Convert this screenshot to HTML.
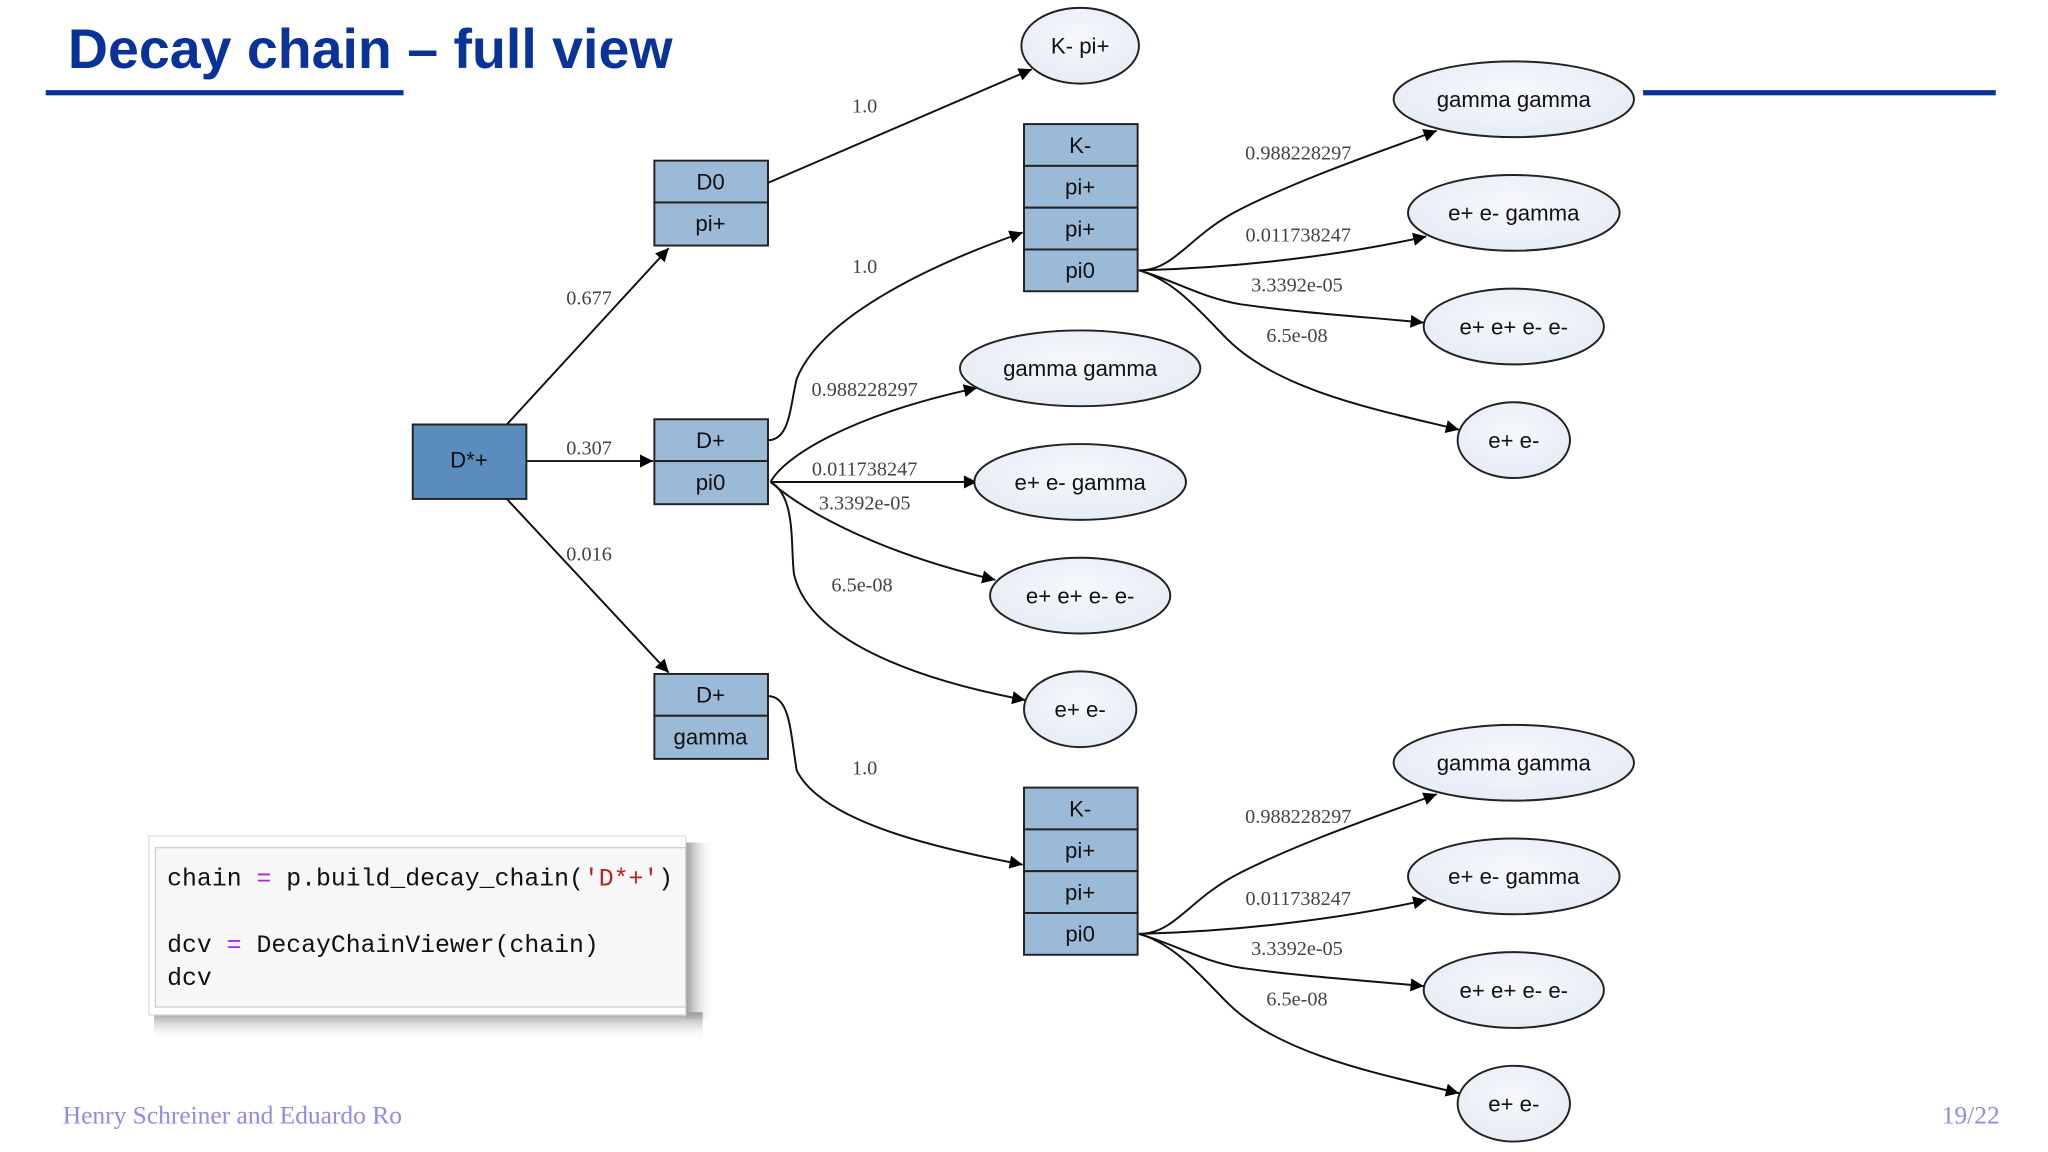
<!DOCTYPE html>
<html><head><meta charset="utf-8"><style>
html,body{margin:0;padding:0;background:#fff;}
svg{display:block;}
.n{font-family:"Liberation Sans",sans-serif;font-size:17px;fill:#111;text-anchor:middle;}
.e{font-family:"Liberation Serif",serif;font-size:15.5px;fill:#444;text-anchor:middle;}
.c{font-family:"Liberation Mono",monospace;font-size:19px;fill:#111;}
path.ed{fill:none;stroke:#111;stroke-width:1.5;marker-end:url(#ar);}
</style></head><body>
<svg width="2048" height="1152" viewBox="0 0 1568 882" xmlns="http://www.w3.org/2000/svg">
<defs>
<marker id="ar" viewBox="0 0 10 10" refX="10" refY="5" markerWidth="13" markerHeight="10" markerUnits="userSpaceOnUse" orient="auto"><path d="M0,0 L10,5 L0,10 z" fill="#000"/></marker>
<radialGradient id="eg" cx="50%" cy="40%" r="60%"><stop offset="0" stop-color="#f6f8fc"/><stop offset="1" stop-color="#e6ecf5"/></radialGradient>
<linearGradient id="sh" x1="0" y1="0" x2="1" y2="0"><stop offset="0" stop-color="#999"/><stop offset="1" stop-color="#fff" stop-opacity="0"/></linearGradient>
<linearGradient id="shb" x1="0" y1="0" x2="0" y2="1"><stop offset="0" stop-color="#999"/><stop offset="1" stop-color="#fff" stop-opacity="0"/></linearGradient>
</defs>
<rect width="1568" height="882" fill="#fff"/>
<text x="52" y="52" font-family="Liberation Sans,sans-serif" font-weight="bold" font-size="42.5" fill="#0a3399">Decay chain – full view</text>
<rect x="35" y="69" width="274" height="4" fill="#0a3399"/>
<rect x="1258" y="69" width="270" height="4" fill="#0a3399"/>

<path class="ed" d="M388,325 L512,190"/>
<path class="ed" d="M403,353 L500,353"/>
<path class="ed" d="M388,382 L512,515"/>
<path class="ed" d="M588,140 L790,53"/>
<path class="ed" d="M588,337 C605,337 605,310 610,290 C630,240 720,200 783,178"/>
<path class="ed" d="M590,369 C600,350 650,318 748,297"/>
<path class="ed" d="M590,369 L748,369"/>
<path class="ed" d="M590,369 C620,395 680,425 762,444"/>
<path class="ed" d="M590,369 C610,380 605,420 608,440 C620,490 700,520 785,536"/>
<path class="ed" d="M588,533 C605,533 605,560 610,590 C630,630 720,650 783,662"/>
<g id="fan">
<path class="ed" d="M872,207 C900,207 910,180 950,160 C1000,135 1060,115 1100,100"/>
<path class="ed" d="M872,207 C950,205 1030,195 1092,181"/>
<path class="ed" d="M872,207 C900,215 920,228 950,233 C1000,240 1050,243 1090,247"/>
<path class="ed" d="M872,207 C900,215 920,240 940,260 C980,300 1060,315 1117,329"/>
<text class="e" x="994" y="122">0.988228297</text>
<text class="e" x="994" y="185">0.011738247</text>
<text class="e" x="993" y="223">3.3392e-05</text>
<text class="e" x="993" y="262">6.5e-08</text>
<ellipse cx="1159" cy="76" rx="92" ry="29" fill="url(#eg)" stroke="#222" stroke-width="1.5"/>
<text class="n" x="1159" y="82">gamma gamma</text>
<ellipse cx="1159" cy="163" rx="81" ry="29" fill="url(#eg)" stroke="#222" stroke-width="1.5"/>
<text class="n" x="1159" y="169">e+ e- gamma</text>
<ellipse cx="1159" cy="250" rx="69" ry="29" fill="url(#eg)" stroke="#222" stroke-width="1.5"/>
<text class="n" x="1159" y="256">e+ e+ e- e-</text>
<ellipse cx="1159" cy="337" rx="43" ry="29" fill="url(#eg)" stroke="#222" stroke-width="1.5"/>
<text class="n" x="1159" y="343">e+ e-</text>
<g fill="#9bbad8" stroke="#222" stroke-width="1.5">
<rect x="784" y="95" width="87" height="32"/><rect x="784" y="127" width="87" height="32"/>
<rect x="784" y="159" width="87" height="32"/><rect x="784" y="191" width="87" height="32"/>
</g>
<text class="n" x="827" y="117">K-</text><text class="n" x="827" y="149">pi+</text>
<text class="n" x="827" y="181">pi+</text><text class="n" x="827" y="213">pi0</text>
</g>
<use href="#fan" transform="translate(0,508)"/>

<text class="e" x="451" y="233">0.677</text>
<text class="e" x="451" y="348">0.307</text>
<text class="e" x="451" y="429">0.016</text>
<text class="e" x="662" y="86">1.0</text>
<text class="e" x="662" y="209">1.0</text>
<text class="e" x="662" y="303">0.988228297</text>
<text class="e" x="662" y="364">0.011738247</text>
<text class="e" x="662" y="390">3.3392e-05</text>
<text class="e" x="660" y="453">6.5e-08</text>
<text class="e" x="662" y="593">1.0</text>

<rect x="316" y="325" width="87" height="57" fill="#5a8dbd" stroke="#222" stroke-width="1.5"/>
<text class="n" x="359" y="358">D*+</text>
<g fill="#9bbad8" stroke="#222" stroke-width="1.5">
<rect x="501" y="123" width="87" height="32"/><rect x="501" y="155" width="87" height="33"/>
<rect x="501" y="321" width="87" height="32"/><rect x="501" y="353" width="87" height="33"/>
<rect x="501" y="516" width="87" height="32"/><rect x="501" y="548" width="87" height="33"/>
</g>
<text class="n" x="544" y="145">D0</text><text class="n" x="544" y="177">pi+</text>
<text class="n" x="544" y="343">D+</text><text class="n" x="544" y="375">pi0</text>
<text class="n" x="544" y="538">D+</text><text class="n" x="544" y="570">gamma</text>

<g fill="url(#eg)" stroke="#222" stroke-width="1.5">
<ellipse cx="827" cy="35" rx="45" ry="29"/>
<ellipse cx="827" cy="282" rx="92" ry="29"/>
<ellipse cx="827" cy="369" rx="81" ry="29"/>
<ellipse cx="827" cy="456" rx="69" ry="29"/>
<ellipse cx="827" cy="543" rx="43" ry="29"/>
</g>
<text class="n" x="827" y="41">K- pi+</text>
<text class="n" x="827" y="288">gamma gamma</text>
<text class="n" x="827" y="375">e+ e- gamma</text>
<text class="n" x="827" y="462">e+ e+ e- e-</text>
<text class="n" x="827" y="549">e+ e-</text>

<rect x="525" y="645" width="22" height="135" fill="url(#sh)"/>
<rect x="118" y="775" width="420" height="22" fill="url(#shb)"/>
<rect x="114" y="640" width="411" height="137" fill="#fff" stroke="#ddd"/>
<rect x="119" y="649" width="406" height="122" fill="#f7f7f7" stroke="#cfcfcf"/>
<text class="c" x="128" y="678" xml:space="preserve">chain <tspan fill="#aa22ff">=</tspan> p.build_decay_chain(<tspan fill="#ba2121">'D*+'</tspan>)</text>
<text class="c" x="128" y="729" xml:space="preserve">dcv <tspan fill="#aa22ff">=</tspan> DecayChainViewer(chain)</text>
<text class="c" x="128" y="754">dcv</text>

<text x="48" y="860" font-family="Liberation Serif,serif" font-size="19.5" fill="#8c8ce6">Henry Schreiner and Eduardo Ro</text>
<text x="1531" y="860" font-family="Liberation Serif,serif" font-size="19.5" fill="#8c8ce6" text-anchor="end">19/22</text>
</svg>
</body></html>
